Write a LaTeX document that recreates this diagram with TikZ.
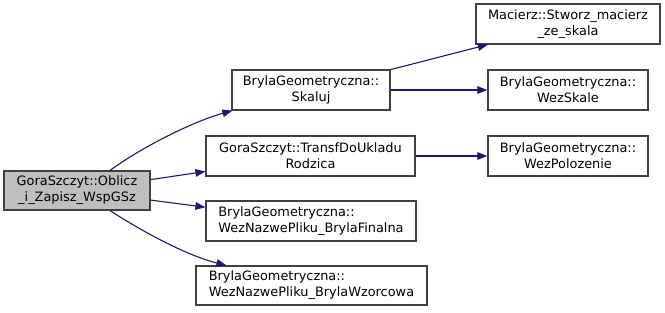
\documentclass[tikz,border=0pt]{standalone}
\usepackage{fontspec}
\setmainfont{DejaVu Sans}
\usetikzlibrary{arrows.meta,calc}
\definecolor{edgeblue}{HTML}{191970}
\definecolor{boxline}{HTML}{404040}
\definecolor{rootfill}{HTML}{BFBFBF}
\begin{document}
\begin{tikzpicture}[x=1pt,y=-1pt,
  fn/.style={draw=boxline,line width=1.2pt,fill=white,rectangle,inner sep=0pt,
    font=\fontsize{12.9}{16}\selectfont,align=center},
  fnleft/.style={fn,align=left},
  call/.style={draw=edgeblue,line width=1.1pt,
    -{Triangle[length=10pt,width=7.5pt]}}]
\useasboundingbox (0,0) rectangle (665,313);
% caller
\node[fn,fill=rootfill,minimum width=146pt,minimum height=39pt] (root) at (77,190.5)
  {GoraSzczyt::Oblicz\\\_i\_Zapisz\_WspGSz};
% direct callees
\node[fn,minimum width=158pt,minimum height=40pt] (skaluj) at (311,90)
  {BrylaGeometryczna::\\Skaluj};
\node[fn,minimum width=209pt,minimum height=40pt] (transf) at (310.5,156)
  {GoraSzczyt::TransfDoUkladu\\Rodzica};
\node[fnleft,minimum width=210pt,minimum height=40pt] (finalna) at (311,221)
  {BrylaGeometryczna::\\WezNazwePliku\_BrylaFinalna};
\node[fnleft,minimum width=231pt,minimum height=39pt] (wzorcowa) at (311.5,285.5)
  {BrylaGeometryczna::\\WezNazwePliku\_BrylaWzorcowa};
% second level
\node[fn,minimum width=184pt,minimum height=40pt] (macierz) at (568,24)
  {Macierz::Stworz\_macierz\\\_ze\_skala};
\node[fn,minimum width=160pt,minimum height=40pt] (wezskale) at (568,90)
  {BrylaGeometryczna::\\WezSkale};
\node[fn,minimum width=160pt,minimum height=40pt] (wezpol) at (568,156)
  {BrylaGeometryczna::\\WezPolozenie};
% calls
\draw[call] ($(root.north)+(33,0)$) .. controls (145,145) and (195,121) .. ($(skaluj.south west)+(1,0)$);
\draw[call] (root) -- (transf);
\draw[call] (root) -- (finalna);
\draw[call] ($(root.south)+(33,0)$) .. controls (140,230) and (185,255) .. ($(wzorcowa.north west)+(31,0)$);
\draw[call] (skaluj) -- (macierz);
\draw[call] (skaluj) -- (wezskale);
\draw[call] (transf) -- (wezpol);
\end{tikzpicture}
\end{document}
